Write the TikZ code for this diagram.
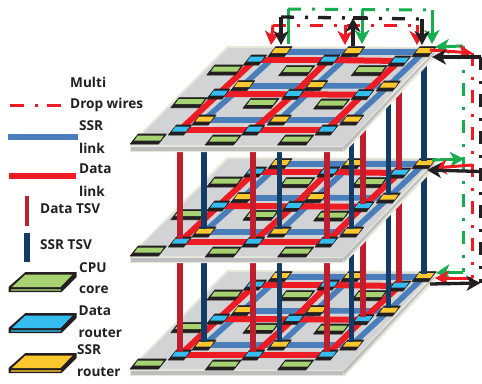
\documentclass[tikz,border=0pt]{standalone}
\usepackage{fontspec}
\setmainfont{Open Sans}
\usetikzlibrary{arrows.meta,calc}
\definecolor{cpu}{HTML}{A6D271}
\definecolor{drt}{HTML}{36BDEF}
\definecolor{srt}{HTML}{FDC82F}
\definecolor{ink}{HTML}{231F20}
\definecolor{lblue}{HTML}{4A7EBB}
\definecolor{lred}{HTML}{ED1C24}
\definecolor{tred}{HTML}{BE1E2D}
\definecolor{tnavy}{HTML}{123B66}
\definecolor{wgreen}{HTML}{17AE4F}
\definecolor{pl}{HTML}{D1D3D4}
\definecolor{pledge}{HTML}{E9E7D9}
\definecolor{plside}{HTML}{BCBEC0}
\tikzset{
  lbl/.style={anchor=west,inner sep=0pt,text=ink,font=\fontsize{13.6}{15}\selectfont\bfseries},
  slink/.style={draw=lblue,line width=5.6pt},
  dlink/.style={draw=lred,line width=6pt},
  rtsv/.style={draw=tred,line width=6pt,shorten >=3pt},
  ntsv/.style={draw=tnavy,line width=5.5pt,shorten >=3pt},
  wirepat/.style={dash pattern=on 13pt off 11pt on 3pt off 10pt},
  wred/.style={draw=lred,line width=3pt},
  wgrn/.style={draw=wgreen,line width=3pt},
  wblk/.style={draw=ink,line width=3.3pt},
  ahr/.style={-{Stealth[length=14pt,width=15pt,inset=4pt]}},
  pics/chip/.style n args={4}{code={
    \filldraw[ink,line width=.8pt,line join=round] ({-#1/2},{#2/2}) -- ({#1/2-#2*.8},{#2/2}) -- ({#1/2},{-#2/2}) -- ({-#1/2+#2*.8},{-#2/2}) -- cycle;
    \fill[#3] ({-#1/2+#4+1},1.5) -- ({#1/2-#4-3},1.5) -- ({#1/2-#4+.5},{-#2/2+1.5}) -- ({-#1/2+#4+4.5},{-#2/2+1.5}) -- cycle;
  }},
  pics/bigchip/.style={code={
    \fill[ink] (17,0) -- (68,0) -- (68,5) -- (53,20) -- (0,20) -- (0,15) -- cycle;
    \fill[#1] (17,2.5) -- (64,2.5) -- (52,15) -- (3.5,15) -- cycle;
    \fill[#1!75!black] (2.5,17) rectangle (52,18.5);
  }}
}
\newcommand{\defcoords}[2]{%
  \foreach \n/\x/\y in {s11/280/51.7,s12/352.7/51.7,s13/424/51.7,
      s21/242.7/85.7,s22/315.7/85.7,s23/388.3/86,
      s31/204/120,s32/279.3/120,s33/351.7/120,
      d11/255/60,d12/328.3/60,d13/399.3/61,
      d21/218.3/94,d22/293.3/94.3,d23/362.7/94.7,
      d31/180/130,d32/253.3/130,d33/326.7/130,
      c11/225/70,c12/296.7/70.7,c13/369.3/70.7,
      c21/189/102.7,c22/261/103.3,c23/331.7/104,
      c31/148.3/139,c32/223.3/140,c33/295.7/140}
    {\coordinate (#1\n) at (\x,{\y+#2});}%
}
\newcommand{\layer}[2]{%
  \begin{scope}[shift={(0,#2)}]
    \fill[pledge] (130,144) -- (130,152) -- (345,152) -- (437,55) -- (437,47) -- (227,46) -- cycle;
    \fill[plside] (131,147) -- (343,147) -- (343,150.5) -- (131,150.5) -- cycle;
    \fill[plside] (343,147) -- (434,52) -- (434,54) -- (344,150.5) -- cycle;
    \fill[pl] (131.5,144.5) -- (343,146) -- (434,48.5) -- (228.5,48) -- cycle;
  \end{scope}
  \foreach \a/\b in {s11/s12,s12/s13,s21/s22,s22/s23,s31/s32,s32/s33,s11/s21,s21/s31,s12/s22,s22/s32,s13/s23,s23/s33}
    \draw[slink] (#1\a) -- (#1\b);
  \foreach \a/\b in {d11/d12,d12/d13,d21/d22,d22/d23,d31/d32,d32/d33,d11/d21,d21/d31,d12/d22,d22/d32,d13/d23,d23/d33}
    \draw[dlink] (#1\a) -- (#1\b);
  \foreach \n in {c11,c12,c13,c21,c22,c23,c31,c32,c33}
    \pic at (#1\n) {chip={36}{10}{cpu}{3}};
  \foreach \n in {d11,d12,d13,d21,d22,d23,d31,d32,d33}
    \pic at (#1\n) {chip={23}{10}{drt}{2.5}};
  \foreach \n in {s11,s12,s13,s21,s22,s23,s31,s32,s33}
    \pic at (#1\n) {chip={24}{10}{srt}{2.5}};
}
\newcommand{\pillars}[2]{%
  \foreach \n in {s13,s23,s33,s32,s31}
    \draw[ntsv] (#1\n) -- (#2\n);
  \foreach \n in {d13,d23,d33,d32,d31}
    \draw[rtsv] (#1\n) -- (#2\n);
}
\begin{document}
\begin{tikzpicture}[x=1pt,y=-1pt]
\path[use as bounding box] (0,0) rectangle (482,383);
\defcoords{A}{0}
\defcoords{B}{112}
\defcoords{C}{225}
\layer{C}{224}
\pillars{B}{C}
\layer{B}{111}
\pillars{A}{B}
\layer{A}{0}
% top wires
\coordinate (ra) at (273,25); \coordinate (rb) at (345,25); \coordinate (rc) at (417,25);
\coordinate (rat) at (271,45); \coordinate (rbt) at (345,45); \coordinate (rct) at (417,45);
\coordinate (ga) at (288,9); \coordinate (gb) at (362,9); \coordinate (gc) at (432,10);
\coordinate (gat) at (288,44); \coordinate (gbt) at (362,44); \coordinate (gct) at (432,44);
\coordinate (ka) at (281,17); \coordinate (kb) at (353,18); \coordinate (kc) at (422,19);
\coordinate (kat) at (281,45); \coordinate (kbt) at (353,46); \coordinate (kct) at (422,45);
\draw[wred,wirepat] (ra) -- (rc);
\draw[wred,ahr] (ra) -- (rat);
\draw[wred,ahr] (rb) -- (rbt);
\draw[wred,ahr] (rc) -- (rct);
\draw[wgrn,wirepat] (ga) -- (gc);
\draw[wgrn] (ga) -- (gat);
\draw[wgrn,ahr] (gb) -- (gbt);
\draw[wgrn,ahr] (gc) -- (gct);
\draw[wblk,wirepat] (ka) -- (kc);
\draw[wblk,ahr] (ka) -- (kat);
\draw[wblk,ahr] (kbt) -- (kb);
\draw[wblk] (kb) -- ++(14,0);
\draw[wblk,ahr] (kc) -- (kct);
% right bus
\coordinate (gv1) at (463,46); \coordinate (gv2) at (463,272);
\coordinate (rv1) at (472.5,53); \coordinate (rv2) at (472.5,278);
\coordinate (kv1) at (480.5,57); \coordinate (kv2) at (480.5,283);
\draw[wred,wirepat] (rv1) -- (rv2);
\draw[wgrn,wirepat] (gv1) -- (gv2);
\draw[wblk,wirepat,line width=3.5pt] (kv1) -- (kv2);
% level 1
\coordinate (g1) at (435,47); \coordinate (r1) at (430,50); \coordinate (k1) at (432,57);
\draw[wgrn,ahr] (gv1) -- (g1);
\draw[wred,ahr] (r1) -- (rv1);
\draw[wblk,ahr] (kv1) -- (k1);
% level 2
\coordinate (g2a) at (432,160); \coordinate (g2b) at (464,159);
\coordinate (r2a) at (472.5,165); \coordinate (r2b) at (433,168);
\coordinate (k2a) at (480.5,171.5); \coordinate (k2b) at (427,170);
\draw[wgrn,ahr] (g2a) -- (g2b);
\draw[wred,ahr] (r2a) -- (r2b);
\draw[wblk,ahr] (k2a) -- (k2b);
% level 3
\coordinate (g3) at (436,273); \coordinate (g3c) at (447,272);
\coordinate (r3) at (435,278); \coordinate (k3a) at (430,284);
\draw[wgrn] (gv2) -- (g3c);
\draw[wgrn,ahr] (g3c) -- (g3);
\draw[wred,ahr] (rv2) -- (r3);
\draw[wblk,ahr] (k3a) -- (kv2);
% legend
\node[lbl] (t1) at (70,82) {Multi};
\node[lbl] (t2) at (70,105) {Drop wires};
\coordinate (l1a) at (10,105); \coordinate (l1b) at (61,105);
\draw[draw=lred,line width=3pt,dash pattern=on 14pt off 11pt on 3pt off 9pt] (l1a) -- (l1b);
\node[lbl] (t3) at (79,126) {SSR};
\coordinate (l2a) at (8,137); \coordinate (l2b) at (78,137);
\draw[slink] (l2a) -- (l2b);
\node[lbl] (t4) at (79,148) {link};
\node[lbl] (t5) at (79,169) {Data};
\coordinate (l3a) at (9,175.5); \coordinate (l3b) at (76,175.5);
\draw[dlink] (l3a) -- (l3b);
\node[lbl] (t6) at (79,191) {link};
\node[lbl] (t7) at (40,208.5) {Data TSV};
\coordinate (l4a) at (27,196); \coordinate (l4b) at (27,226);
\draw[draw=tred,line width=3.5pt] (l4a) -- (l4b);
\node[lbl] (t8) at (40,244.5) {SSR TSV};
\coordinate (l5a) at (27,233); \coordinate (l5b) at (27,262);
\draw[draw=tnavy,line width=5.5pt] (l5a) -- (l5b);
\node[lbl] (t9) at (79,268) {CPU};
\node[lbl] (t10) at (79,290) {core};
\pic at (8.5,272) {bigchip=cpu};
\node[lbl] (t11) at (78.5,311) {Data};
\node[lbl] (t12) at (78.5,333) {router};
\pic at (8.5,313) {bigchip=drt};
\node[lbl] (t13) at (77,350) {SSR};
\node[lbl] (t14) at (77,372) {router};
\pic at (8.5,353) {bigchip=srt};
\end{tikzpicture}
\end{document}
